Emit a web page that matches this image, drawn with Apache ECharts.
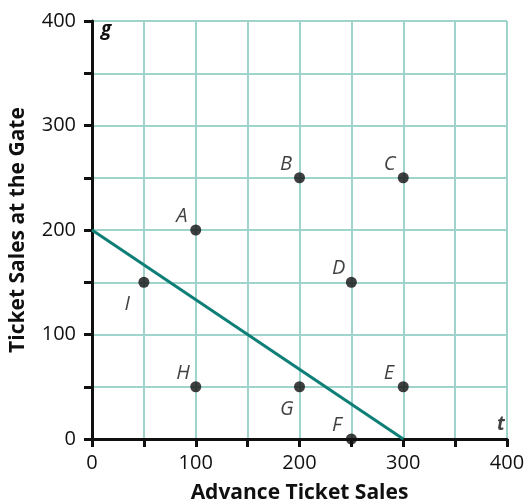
<!DOCTYPE html>
<html><head><meta charset="utf-8">
<script src="https://cdn.jsdelivr.net/npm/echarts@6/dist/echarts.min.js"></script>
<style>html,body{margin:0;padding:0;background:#fff}#c{width:526px;height:502px}</style>
</head><body><div id="c"></div>
<script>
const pointNames = ['A','B','C','D','E','F','G','H','I'];
const pointX = [100,200,300,250,300,250,200,100,50];
const pointY = [200,250,250,150,50,0,50,50,150];
const labelSide = ['up','up','up','up','up','up','down','up','down'];
const lineX = [0,300];
const lineY = [200,0];
const xTicks = [0,100,200,300,400];
const yTicks = [0,100,200,300,400];

const ink = '#111011';
const font = 'Open Sans';
const pts = pointNames.map((n,i)=>({
  value:[pointX[i],pointY[i]], name:n,
  label:{show:true, formatter:n, position: labelSide[i]==='up' ? [-14,-18] : [-14,18],
    fontStyle:'italic', fontSize:20, color:ink, fontFamily:font}
}));

const chart = echarts.init(document.getElementById('c'));
chart.setOption({
  animation:false,
  grid:{left:92, right:19, top:21, bottom:63, outerBoundsMode:'none', containLabel:false},
  xAxis:{type:'value', min:0, max:400, interval:50,
    name:'Advance Ticket Sales', nameLocation:'middle', nameGap:44,
    nameTextStyle:{fontSize:21, fontWeight:'bold', color:ink, fontFamily:font},
    axisLine:{show:true, onZero:false, lineStyle:{color:ink, width:3}},
    axisTick:{show:true, length:8, lineStyle:{color:ink, width:3}},
    axisLabel:{fontSize:20, color:ink, fontFamily:font, margin:14,
      formatter:v=> xTicks.includes(v) ? String(v) : ''},
    splitLine:{show:true, lineStyle:{color:'#9fd4cc', width:2}}
  },
  yAxis:{type:'value', min:0, max:400, interval:50,
    name:'Ticket Sales at the Gate', nameLocation:'middle', nameGap:63,
    nameTextStyle:{fontSize:21, fontWeight:'bold', color:ink, fontFamily:font},
    axisLine:{show:true, onZero:false, lineStyle:{color:ink, width:3}},
    axisTick:{show:true, length:8, lineStyle:{color:ink, width:3}},
    axisLabel:{fontSize:20, color:ink, fontFamily:font, margin:16,
      formatter:v=> yTicks.includes(v) ? String(v) : ''},
    splitLine:{show:true, lineStyle:{color:'#9fd4cc', width:2}}
  },
  graphic:[
    {type:'text', left:101, top:20, style:{text:'g', font:'italic bold 19px "Open Sans"', fill:ink}},
    {type:'line', shape:{x1:507, y1:21, x2:507, y2:439}, style:{stroke:'#9fd4cc', lineWidth:2}, z:-1}
  ],
  series:[
    {type:'line', data: lineX.map((x,i)=>[x,lineY[i]]), symbol:'none',
      lineStyle:{color:'#0e7f76', width:3}, z:3},
    {type:'scatter', data: pts, symbolSize:11, itemStyle:{color:ink}, z:4},
    {type:'scatter', data:[{value:[400,0], label:{show:true, formatter:'t', position:[-10,-24],
      fontStyle:'italic', fontWeight:'bold', fontSize:19, color:ink, fontFamily:font}}],
      symbolSize:0, itemStyle:{color:'transparent'}}
  ]
});
</script></body></html>
